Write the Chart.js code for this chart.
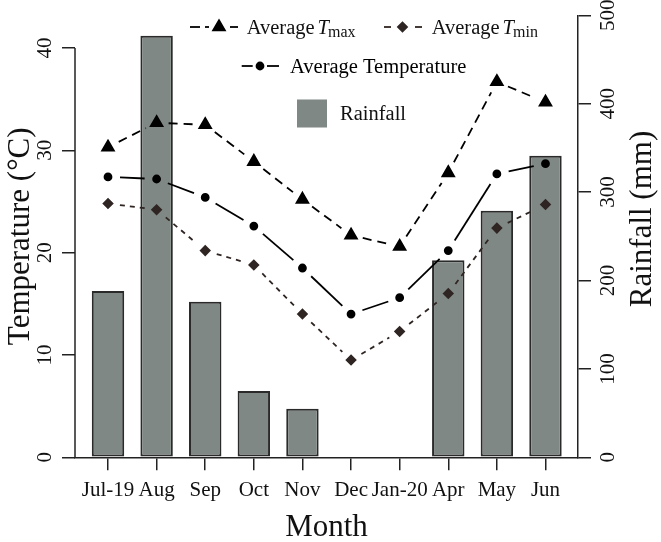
<!DOCTYPE html>
<html>
<head>
<meta charset="utf-8">
<script src="https://cdn.jsdelivr.net/npm/chart.js@4.4.0/dist/chart.umd.min.js"></script>
<style>
  body { margin: 0; background: #fff; }
  #wrap { width: 661px; height: 542px; }
</style>
</head>
<body>
<div id="wrap"><canvas id="climateChart"></canvas></div>
<script>
const months = ['Jul-19', 'Aug', 'Sep', 'Oct', 'Nov', 'Dec', 'Jan-20', 'Apr', 'May', 'Jun'];
const tMax = [30.3, 32.7, 32.5, 28.9, 25.2, 21.7, 20.6, 27.8, 36.7, 34.7];
const tAvg = [27.4, 27.2, 25.4, 22.6, 18.5, 14.0, 15.6, 20.2, 27.7, 28.7];
const tMin = [24.8, 24.2, 20.2, 18.8, 14.0, 9.5, 12.3, 16.0, 22.4, 24.7];
const rainfall = [188, 477, 176, 75, 55, 0, 0, 223, 279, 341];
const tempTicks = [0, 10, 20, 30, 40];
const rainTicks = [0, 100, 200, 300, 400, 500];

const SERIF = '"Liberation Serif", "Times New Roman", serif';
const INK = '#111';
const AXIS = '#222';
const BAR = '#7f8884';
const TMIN_COL = '#2f2523';

Chart.defaults.font.family = SERIF;
Chart.defaults.color = INK;

// R style type="b": line pieces stop short of each point
function gapDash(seg, pattern, gap) {
  const L = Math.hypot(seg.p1.x - seg.p0.x, seg.p1.y - seg.p0.y);
  const end = L - gap;
  const out = [0, gap];
  let pos = gap;
  while (pos < end) {
    const on = Math.min(pattern[0], end - pos);
    pos += on;
    let off = pattern[1];
    if (pos + off >= end) off = L - pos;
    out.push(on, off);
    pos += off;
  }
  if (out.length === 2) out.push(0, Math.max(L - gap, 0));
  return out;
}

const xy = arr => arr.map((v, i) => ({ x: i, y: v }));

const ctx = document.getElementById('climateChart').getContext('2d');

const overlay = {
  id: 'overlay',
  afterDraw(chart) {
    const c = chart.ctx;
    const y = chart.scales.y;
    c.save();

    // left axis line only spans the labelled range (0-40)
    c.strokeStyle = AXIS;
    c.lineWidth = 1.5;
    c.beginPath();
    c.moveTo(y.right, y.getPixelForValue(tempTicks[0]));
    c.lineTo(y.right, y.getPixelForValue(tempTicks[tempTicks.length - 1]));
    c.stroke();

    // right axis title, reads bottom to top
    c.save();
    c.translate(651, 219);
    c.rotate(-Math.PI / 2);
    c.font = '31px ' + SERIF;
    c.fillStyle = INK;
    c.textAlign = 'center';
    c.textBaseline = 'alphabetic';
    c.fillText('Rainfall (mm)', 0, 0);
    c.restore();

    // legend
    c.lineWidth = 1.8;
    c.lineCap = 'butt';
    const seg = (x0, x1, yy) => { c.beginPath(); c.moveTo(x0, yy); c.lineTo(x1, yy); c.stroke(); };
    const label = (x, yy, sub) => {
      c.fillStyle = INK;
      c.textBaseline = 'alphabetic';
      c.textAlign = 'left';
      c.font = '20.5px ' + SERIF;
      c.fillText('Average', x, yy);
      x += c.measureText('Average').width + 3;
      c.font = 'italic 20.5px ' + SERIF;
      c.fillText('T', x, yy);
      x += c.measureText('T').width - 1;
      c.font = '16px ' + SERIF;
      c.fillText(sub, x, yy + 3);
    };

    // row 1: Tmax
    let ry = 27;
    c.strokeStyle = '#000';
    c.fillStyle = '#000';
    seg(190, 200, ry); seg(205, 209, ry); seg(230, 238, ry);
    Chart.helpers.drawPoint(c, { pointStyle: 'triangle', radius: 6.8, rotation: 0, borderWidth: 1 }, 219, ry);
    label(246.7, 33.5, 'max');

    // row 1: Tmin
    c.strokeStyle = TMIN_COL;
    c.fillStyle = TMIN_COL;
    seg(384, 391, ry); seg(415, 422, ry);
    Chart.helpers.drawPoint(c, { pointStyle: 'rectRot', radius: 4.5, rotation: 0, borderWidth: 1 }, 402.5, ry);
    label(431.7, 33.5, 'min');

    // row 2: average temperature
    ry = 66;
    c.strokeStyle = '#000';
    c.fillStyle = '#000';
    seg(241.7, 252.7, ry); seg(267, 279, ry);
    Chart.helpers.drawPoint(c, { pointStyle: 'circle', radius: 3.5, rotation: 0, borderWidth: 1 }, 260, ry);
    c.font = '20.5px ' + SERIF;
    c.textAlign = 'left';
    c.textBaseline = 'alphabetic';
    c.fillText('Average Temperature', 290, 73);

    // row 3: rainfall
    c.fillStyle = BAR;
    c.fillRect(297, 99.5, 30, 28);
    c.fillStyle = INK;
    c.fillText('Rainfall', 340, 120);

    c.restore();
  }
};

new Chart(ctx, {
  type: 'bar',
  data: {
    datasets: [
      {
        type: 'line',
        label: 'Average Tmax',
        data: xy(tMax),
        yAxisID: 'y',
        borderColor: '#000',
        borderWidth: 1.8,
        pointStyle: 'triangle',
        pointRadius: 6.8,
        pointBackgroundColor: '#000',
        pointBorderColor: '#000',
        segment: { borderDash: s => gapDash(s, [9, 6], 12) }
      },
      {
        type: 'line',
        label: 'Average Temperature',
        data: xy(tAvg),
        yAxisID: 'y',
        borderColor: '#000',
        borderWidth: 1.8,
        pointStyle: 'circle',
        pointRadius: 3.5,
        pointBackgroundColor: '#000',
        pointBorderColor: '#000',
        segment: { borderDash: s => gapDash(s, [100000, 0], 12) }
      },
      {
        type: 'line',
        label: 'Average Tmin',
        data: xy(tMin),
        yAxisID: 'y',
        borderColor: TMIN_COL,
        borderWidth: 1.8,
        pointStyle: 'rectRot',
        pointRadius: 4.5,
        pointBackgroundColor: TMIN_COL,
        pointBorderColor: TMIN_COL,
        segment: { borderDash: s => gapDash(s, [5, 5], 12) }
      },
      {
        type: 'bar',
        label: 'Rainfall',
        data: xy(rainfall),
        yAxisID: 'y1',
        backgroundColor: BAR,
        borderColor: '#2a2a2a',
        borderWidth: 2,
        borderSkipped: false,
        barPercentage: 1,
        categoryPercentage: 0.667
      }
    ]
  },
  options: {
    responsive: true,
    maintainAspectRatio: false,
    animation: false,
    events: [],
    layout: { padding: 0 },
    plugins: {
      legend: { display: false },
      tooltip: { enabled: false }
    },
    scales: {
      x: {
        type: 'linear',
        offset: false,
        min: -0.679,
        max: 9.669,
        afterBuildTicks: s => { s.ticks = months.map((m, i) => ({ value: i })); },
        afterFit: s => { s.height = 84.7; s.paddingLeft = 0; s.paddingRight = 0; },
        ticks: { callback: v => months[v], autoSkip: false, minRotation: 0, maxRotation: 0, padding: 8, font: { size: 21 }, color: INK },
        grid: { offset: false, drawOnChartArea: false, drawTicks: true, tickLength: 13, color: AXIS, lineWidth: 1.5 },
        border: { display: true, color: AXIS, width: 1.5 },
        title: { display: true, text: 'Month', font: { size: 31, lineHeight: 0.86 }, padding: { top: 0, bottom: 1 }, color: INK }
      },
      y: {
        position: 'left',
        min: 0,
        max: 43.2,
        afterBuildTicks: s => { s.ticks = tempTicks.map(v => ({ value: v })); },
        afterFit: s => { s.width = 75; s.paddingTop = 15.3; s.paddingBottom = 0; },
        ticks: { minRotation: 90, maxRotation: 90, crossAlign: 'center', padding: 6, autoSkip: false, font: { size: 21 }, color: INK },
        grid: { drawOnChartArea: false, drawTicks: true, tickLength: 13, color: AXIS, lineWidth: 1.5 },
        border: { display: false },
        title: { display: true, text: 'Temperature (°C)', font: { size: 31, lineHeight: 0.86 }, padding: { top: 8, bottom: 0 }, color: INK }
      },
      y1: {
        position: 'right',
        min: 0,
        max: 500,
        afterBuildTicks: s => { s.ticks = rainTicks.map(v => ({ value: v })); },
        afterFit: s => { s.width = 83; s.paddingTop = 15.3; s.paddingBottom = 0; },
        ticks: { minRotation: 90, maxRotation: 90, crossAlign: 'center', padding: 2, autoSkip: false, font: { size: 21 }, color: INK },
        grid: { drawOnChartArea: false, drawTicks: true, tickLength: 13, color: AXIS, lineWidth: 1.5 },
        border: { display: true, color: AXIS, width: 1.5 },
        title: { display: false }
      }
    }
  },
  plugins: [overlay]
});
</script>
</body>
</html>
